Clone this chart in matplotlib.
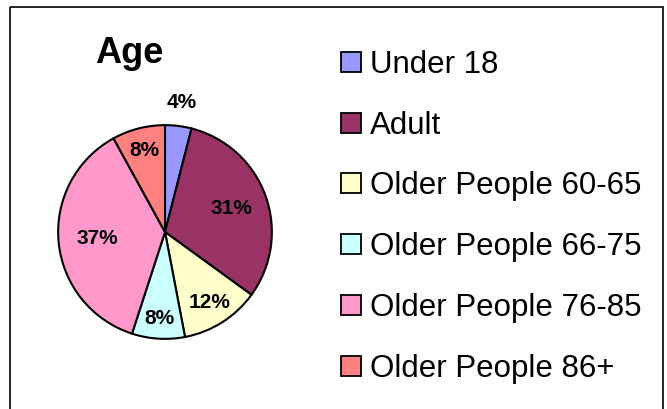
import numpy as np
import matplotlib.pyplot as plt
from matplotlib.patches import Rectangle

plt.rcParams['font.family'] = ['Liberation Sans', 'DejaVu Sans']

title = 'Age'
groups = ['Under 18', 'Adult', 'Older People 60-65', 'Older People 66-75',
          'Older People 76-85', 'Older People 86+']
shares = [4, 31, 12, 8, 37, 8]
colours = ['#9999FF', '#993366', '#FFFFCC', '#CCFFFF', '#FF99CC', '#FF8080']

# label distance from centre (in radii), roughly as Excel's "best fit" put them
label_dist = [1.22, 0.66, 0.78, 0.81, 0.64, 0.79]

W, H = 667, 409
fig = plt.figure(figsize=(W / 100, H / 100), dpi=100)

# overlay in pixel coords for frame, title and legend
over = fig.add_axes([0, 0, 1, 1])
over.set_xlim(0, W)
over.set_ylim(H, 0)
over.axis('off')
over.add_patch(Rectangle((10, 7), 653, 420, fill=False, ec='black', lw=1.2))
over.text(129, 63, title, fontsize=26, fontweight='bold', ha='center', va='baseline')

# pie
cx, cy, r = 165, 232, 109
ax = fig.add_axes([(cx - r) / W, (H - cy - r) / H, 2 * r / W, 2 * r / H])
wedges, _ = ax.pie(shares, colors=colours, startangle=90, counterclock=False,
                   wedgeprops=dict(edgecolor='black', linewidth=1.5))
ax.set_xlim(-1.02, 1.02)
ax.set_ylim(-1.02, 1.02)
ax.set_aspect('equal')
ax.axis('off')

for w, s, d in zip(wedges, shares, label_dist):
    mid = np.deg2rad((w.theta1 + w.theta2) / 2)
    ax.text(d * np.cos(mid), d * np.sin(mid), f'{s}%', ha='center', va='center',
            fontsize=15, fontweight='bold', clip_on=False)

# legend (manual, Excel style)
base0, dy = 73, 60.7
for i, (g, c) in enumerate(zip(groups, colours)):
    b = base0 + i * dy
    over.add_patch(Rectangle((340.5, b - 21), 20, 20, fc=c, ec='black', lw=1.3))
    over.text(370, b, g, fontsize=22.5, ha='left', va='baseline')

fig.savefig('out.png', dpi=100)
